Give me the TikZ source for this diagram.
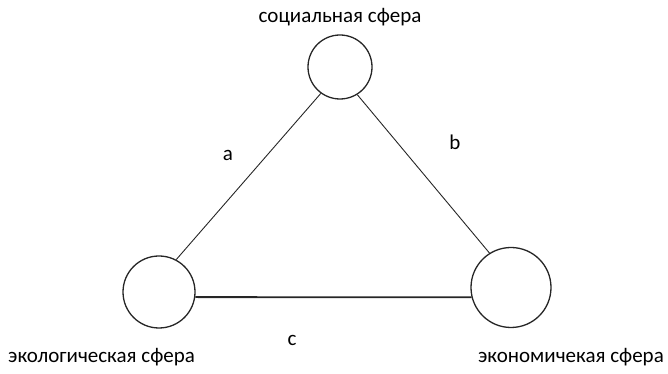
\documentclass[tikz,border=0pt]{standalone}
\usepackage{fontspec}
\setmainfont{Carlito}
\begin{document}
\begin{tikzpicture}[x=1pt,y=1pt,
  sphere/.style={draw=black!85, line width=1.3pt, circle, inner sep=0pt},
  lbl/.style={font=\fontsize{21}{24}\selectfont, text=black, inner sep=0pt},
  link/.style={draw=black!85, line width=0.9pt}]
\useasboundingbox (0,0) rectangle (668,374);
\node[sphere, minimum size=64pt] (soc) at (340,307) {};
\node[sphere, minimum size=72pt] (eco) at (159,82) {};
\node[sphere, minimum size=80pt] (econ) at (511,86.5) {};
\node[lbl] (tsoc) at (340,357) {социальная сфера};
\node[lbl, anchor=west] (teco) at (8,17) {экологическая сфера};
\node[lbl, anchor=east] (tecon) at (664,17) {экономичекая сфера};
\node[lbl] (la) at (228,219) {a};
\node[lbl] (lb) at (455,232) {b};
\node[lbl] (lc) at (292,34) {c};
\draw[link] (soc.234) -- (eco.62);
\draw[link] (soc.302) -- (econ.122);
\draw[link, line width=1.8pt] (eco.-8) -- (econ.194);
\end{tikzpicture}
\end{document}
